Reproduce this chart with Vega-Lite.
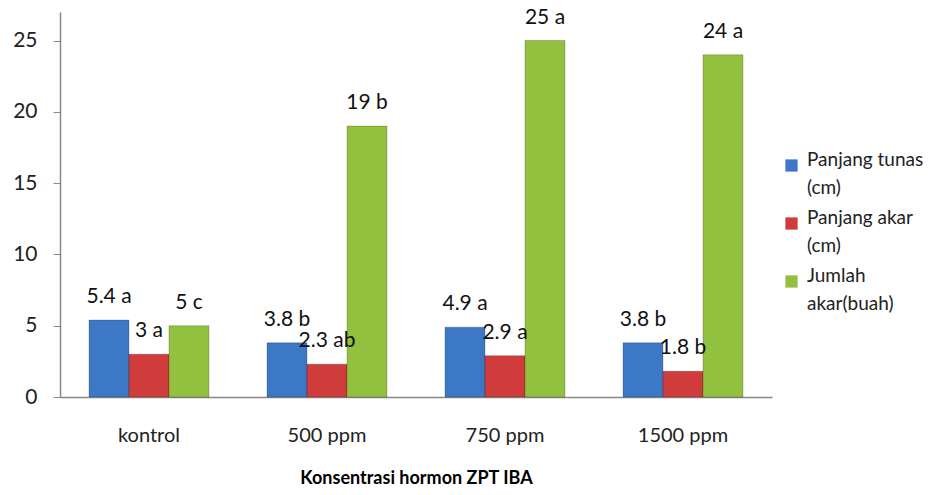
{
  "$schema": "https://vega.github.io/schema/vega-lite/v6.json",
  "width": 712,
  "height": 385,
  "padding": {"left": 60, "top": 12, "right": 171, "bottom": 98},
  "autosize": {"type": "none"},
  "background": "white",
  "config": {
    "view": {"stroke": null},
    "font": "Lato",
    "style": {"guide-label": {"lineHeight": 28}}
  },
  "data": {
    "values": [
      {"kategori": "kontrol", "seri": "Panjang tunas (cm)", "nilai": 5.4, "label": "5.4 a"},
      {"kategori": "kontrol", "seri": "Panjang akar (cm)", "nilai": 3, "label": "3 a"},
      {"kategori": "kontrol", "seri": "Jumlah akar(buah)", "nilai": 5, "label": "5 c"},
      {"kategori": "500 ppm", "seri": "Panjang tunas (cm)", "nilai": 3.8, "label": "3.8 b"},
      {"kategori": "500 ppm", "seri": "Panjang akar (cm)", "nilai": 2.3, "label": "2.3 ab"},
      {"kategori": "500 ppm", "seri": "Jumlah akar(buah)", "nilai": 19, "label": "19 b"},
      {"kategori": "750 ppm", "seri": "Panjang tunas (cm)", "nilai": 4.9, "label": "4.9 a"},
      {"kategori": "750 ppm", "seri": "Panjang akar (cm)", "nilai": 2.9, "label": "2.9 a"},
      {"kategori": "750 ppm", "seri": "Jumlah akar(buah)", "nilai": 25, "label": "25 a"},
      {"kategori": "1500 ppm", "seri": "Panjang tunas (cm)", "nilai": 3.8, "label": "3.8 b"},
      {"kategori": "1500 ppm", "seri": "Panjang akar (cm)", "nilai": 1.8, "label": "1.8 b"},
      {"kategori": "1500 ppm", "seri": "Jumlah akar(buah)", "nilai": 24, "label": "24 a"}
    ]
  },
  "encoding": {
    "x": {
      "field": "kategori", "type": "nominal",
      "sort": ["kontrol", "500 ppm", "750 ppm", "1500 ppm"],
      "scale": {"paddingInner": 0.326, "paddingOuter": 0.163},
      "axis": {
        "title": "Konsentrasi hormon ZPT IBA",
        "titleFont": "Lato", "titleFontSize": 18, "titleFontWeight": "bold", "titleColor": "#000",
        "titlePadding": 24,
        "labelAngle": 0, "labelFontSize": 20, "labelColor": "#222", "labelPadding": 28,
        "ticks": false, "domainColor": "#888", "domainWidth": 1.5
      }
    },
    "xOffset": {
      "field": "seri", "type": "nominal",
      "sort": ["Panjang tunas (cm)", "Panjang akar (cm)", "Jumlah akar(buah)"],
      "scale": {"paddingInner": 0, "paddingOuter": 0}
    },
    "y": {
      "field": "nilai", "type": "quantitative",
      "scale": {"domain": [0, 27], "nice": false},
      "axis": {
        "title": null, "values": [0, 5, 10, 15, 20, 25], "grid": false,
        "labelFontSize": 21, "labelColor": "#222", "labelPadding": 16,
        "tickSize": 7, "tickColor": "#888", "domainColor": "#888", "domainWidth": 1.5
      }
    }
  },
  "layer": [
    {
      "mark": {"type": "bar", "stroke": "#00000040", "strokeWidth": 0.8},
      "encoding": {
        "color": {
          "field": "seri", "type": "nominal",
          "sort": ["Panjang tunas (cm)", "Panjang akar (cm)", "Jumlah akar(buah)"],
          "scale": {"range": ["#3D78C6", "#D03B3B", "#92C03F"]},
          "legend": {
            "title": null, "orient": "none", "legendX": 722, "legendY": 144,
            "symbolType": "square", "symbolSize": 150, "symbolStrokeWidth": 0,
            "labelFontSize": 19, "labelColor": "#222", "labelOffset": 6,
            "rowPadding": 10, "labelBaseline": "alphabetic",
            "labelExpr": "datum.label == 'Panjang tunas (cm)' ? ['Panjang tunas', '(cm)'] : datum.label == 'Panjang akar (cm)' ? ['Panjang akar', '(cm)'] : ['Jumlah', 'akar(buah)']"
          }
        }
      }
    },
    {
      "mark": {"type": "text", "baseline": "bottom", "dy": -13, "fontSize": 21, "color": "#111"},
      "encoding": {"text": {"field": "label"}}
    }
  ]
}
